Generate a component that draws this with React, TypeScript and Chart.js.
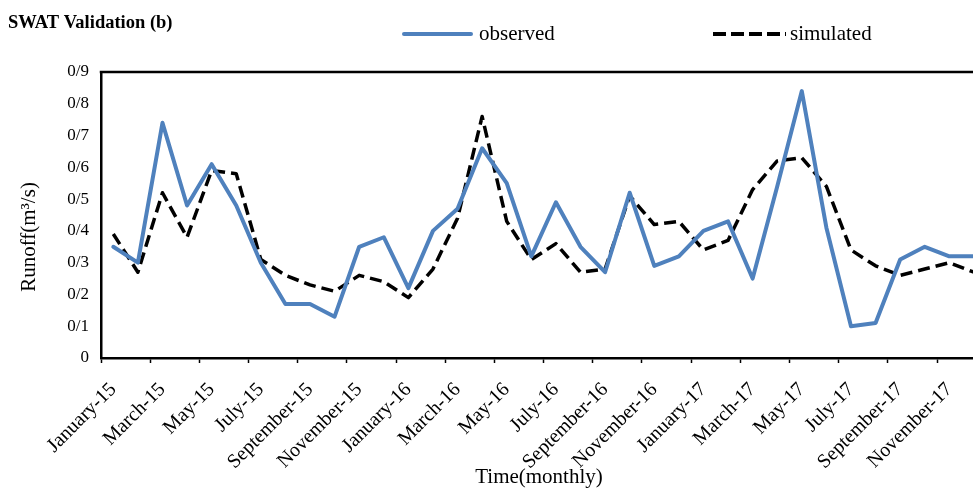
import React, { useEffect, useRef } from 'react';
import { Chart, registerables } from 'chart.js';

Chart.register(...registerables);

const categories = [
  'January-15', 'February-15', 'March-15', 'April-15', 'May-15', 'June-15',
  'July-15', 'August-15', 'September-15', 'October-15', 'November-15', 'December-15',
  'January-16', 'February-16', 'March-16', 'April-16', 'May-16', 'June-16',
  'July-16', 'August-16', 'September-16', 'October-16', 'November-16', 'December-16',
  'January-17', 'February-17', 'March-17', 'April-17', 'May-17', 'June-17',
  'July-17', 'August-17', 'September-17', 'October-17', 'November-17', 'December-17',
];

const observed = [
  0.35, 0.30, 0.74, 0.48, 0.61, 0.48, 0.30, 0.17, 0.17, 0.13, 0.35, 0.38,
  0.22, 0.40, 0.47, 0.66, 0.55, 0.32, 0.49, 0.35, 0.27, 0.52, 0.29, 0.32,
  0.40, 0.43, 0.25, 0.54, 0.84, 0.41, 0.10, 0.11, 0.31, 0.35, 0.32, 0.32,
];

const simulated = [
  0.39, 0.27, 0.52, 0.38, 0.59, 0.58, 0.31, 0.26, 0.23, 0.21, 0.26, 0.24,
  0.19, 0.28, 0.44, 0.76, 0.43, 0.31, 0.36, 0.27, 0.28, 0.51, 0.42, 0.43,
  0.34, 0.37, 0.53, 0.62, 0.63, 0.54, 0.34, 0.29, 0.26, 0.28, 0.30, 0.27,
];

const yTickLabels = ['0', '0/1', '0/2', '0/3', '0/4', '0/5', '0/6', '0/7', '0/8', '0/9'];

const chartTitle = 'SWAT Validation (b)';
const xTitle = 'Time(monthly)';
const yTitle = 'Runoff(m\u00B3/s)';
const seriesNames = ['observed', 'simulated'];

const SERIF = '"Liberation Serif", "Times New Roman", serif';
const BLUE = '#4F81BD';

export default function App() {
  const ref = useRef<HTMLCanvasElement>(null);

  useEffect(() => {
    if (!ref.current) return;
    const decor = {
      id: 'decor',
      afterDraw(chart: any) {
        const { ctx, chartArea } = chart;
        ctx.save();
        // top frame line
        ctx.strokeStyle = '#000';
        ctx.lineWidth = 2.5;
        ctx.beginPath();
        ctx.moveTo(chartArea.left - 1.25, chartArea.top);
        ctx.lineTo(chart.width, chartArea.top);
        ctx.stroke();

        // title
        ctx.fillStyle = '#000';
        ctx.font = `bold 18.5px ${SERIF}`;
        ctx.textAlign = 'left';
        ctx.textBaseline = 'alphabetic';
        ctx.fillText(chartTitle, 8, 28);

        // legend
        ctx.lineWidth = 4;
        ctx.strokeStyle = BLUE;
        ctx.lineCap = 'round';
        ctx.beginPath();
        ctx.moveTo(404, 34);
        ctx.lineTo(471, 34);
        ctx.stroke();
        ctx.font = `21px ${SERIF}`;
        ctx.fillText(seriesNames[0], 479, 40);

        ctx.strokeStyle = '#000';
        ctx.lineCap = 'butt';
        ctx.setLineDash([13, 5]);
        ctx.beginPath();
        ctx.moveTo(713, 34);
        ctx.lineTo(786, 34);
        ctx.stroke();
        ctx.setLineDash([]);
        ctx.fillText(seriesNames[1], 790, 40);

        // x title
        ctx.font = `21px ${SERIF}`;
        ctx.textAlign = 'center';
        ctx.fillText(xTitle, 539, 483);

        // y title
        ctx.translate(35, 237);
        ctx.rotate(-Math.PI / 2);
        ctx.fillText(yTitle, 0, 0);
        ctx.restore();
      },
    };

    const chart = new Chart(ref.current, {
      type: 'line',
      data: {
        labels: categories,
        datasets: [
          {
            label: seriesNames[0],
            data: observed,
            borderColor: BLUE,
            backgroundColor: BLUE,
            borderWidth: 4,
            pointRadius: 0,
            borderJoinStyle: 'round',
            borderCapStyle: 'round',
            tension: 0,
          },
          {
            label: seriesNames[1],
            data: simulated,
            borderColor: '#000',
            backgroundColor: '#000',
            borderWidth: 3.5,
            borderDash: [12, 6],
            pointRadius: 0,
            borderJoinStyle: 'round',
            tension: 0,
          },
        ],
      },
      options: {
        responsive: false,
        animation: false,
        layout: { padding: { top: 72, right: 7, left: 0, bottom: 0 } },
        plugins: {
          legend: { display: false },
          tooltip: { enabled: false },
          title: { display: false },
        },
        scales: {
          x: {
            type: 'category',
            offset: true,
            grid: {
              display: true,
              offset: true,
              drawOnChartArea: false,
              drawTicks: true,
              tickLength: 5,
              tickWidth: 1.5,
              tickColor: (c: any) => (c.index !== undefined && c.index % 2 === 0 ? '#000' : 'rgba(0,0,0,0)'),
            },
            border: { display: true, color: '#000', width: 2.5 },
            ticks: {
              autoSkip: false,
              maxRotation: 45,
              minRotation: 45,
              padding: 15,
              color: '#000',
              font: { family: SERIF, size: 20 },
              callback: (_v: any, i: number) => (i % 2 === 0 ? categories[i] : ''),
            },
            afterFit: (s: any) => {
              s.height = 133;
            },
          },
          y: {
            min: 0,
            max: 0.9,
            ticks: {
              stepSize: 0.1,
              padding: 12,
              color: '#000',
              font: { family: SERIF, size: 17 },
              callback: (_v: any, i: number) => yTickLabels[i],
            },
            grid: { display: false, drawTicks: false },
            border: { display: true, color: '#000', width: 2.5 },
            afterFit: (s: any) => {
              s.width = 101;
            },
          },
        },
      },
      plugins: [decor],
    } as any);

    return () => chart.destroy();
  }, []);

  return (
    <div
      style={{
        position: 'fixed',
        left: 0,
        top: 0,
        width: 973,
        height: 491,
        overflow: 'hidden',
        background: '#fff',
      }}
    >
      <canvas ref={ref} width={1006} height={491} style={{ display: 'block' }} />
    </div>
  );
}
